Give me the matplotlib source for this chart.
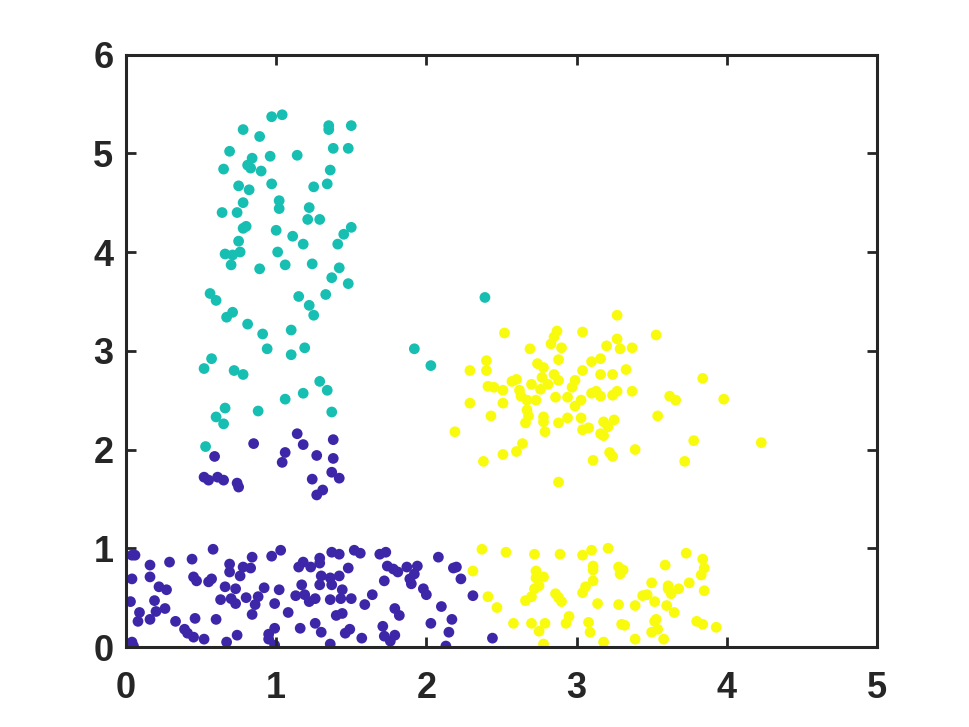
import matplotlib.pyplot as plt

# cluster 1 (purple)
purple_x = [0.85, 1.14, 1.18, 1.38, 1.06, 1.04, 1.27, 1.38, 0.59, 0.52, 0.55, 0.61, 0.65, 0.74, 0.75,
            1.37, 1.42, 1.24, 1.31, 1.27,
            0.04, 0.06, 0.58, 0.16, 0.29, 0.44, 0.69, 0.69, 0.78, 0.83, 0.84, 0.76, 0.97, 1.03,
            0.04, 0.16, 0.45, 0.47, 0.55, 0.57, 0.22, 0.27, 0.66, 0.73, 0.92, 1.02,
            0.03, 0.19, 0.63, 0.70, 0.73, 0.80, 0.88, 0.86, 0.99, 0.09, 0.20, 0.26, 1.08,
            0.08, 0.16, 0.33, 0.46, 0.60, 0.84, 0.39, 0.41, 0.45, 0.52, 0.67, 0.74,
            0.99, 0.95, 0.95, 0.99, 0.04, 0.05,
            1.37, 1.42, 1.52, 1.56, 1.69, 1.73, 2.08, 1.15, 1.18, 1.23, 1.29, 1.29, 1.48,
            1.74, 1.78, 1.81, 1.87, 1.94, 1.92, 1.89, 1.90, 1.72, 1.30, 1.36, 1.42,
            1.17, 1.29, 1.37, 1.13, 1.19, 1.22, 1.26, 1.36, 1.44, 1.43, 1.50, 1.64, 1.59,
            1.98, 2.00, 2.10, 1.40, 1.44, 1.79, 1.82, 1.16, 1.26, 1.30, 1.46, 1.49, 1.57,
            1.71, 1.72, 1.76, 1.79, 1.36, 2.03, 2.13, 2.15,
            2.18, 2.20, 2.23, 2.31, 2.17, 2.44]
purple_y = [2.06, 2.16, 2.05, 2.10, 1.97, 1.87, 1.94, 1.91, 1.93, 1.72, 1.69, 1.72, 1.69, 1.66, 1.62,
            1.77, 1.71, 1.70, 1.59, 1.54,
            0.93, 0.93, 0.99, 0.83, 0.86, 0.89, 0.84, 0.76, 0.81, 0.80, 0.91, 0.72, 0.92, 0.98,
            0.69, 0.71, 0.71, 0.67, 0.66, 0.69, 0.61, 0.58, 0.61, 0.59, 0.60, 0.58,
            0.46, 0.47, 0.48, 0.49, 0.44, 0.50, 0.51, 0.43, 0.44, 0.35, 0.36, 0.39, 0.35,
            0.26, 0.28, 0.26, 0.29, 0.28, 0.33, 0.18, 0.14, 0.10, 0.08, 0.05, 0.12,
            0.19, 0.13, 0.08, 0.02, 0.05, 0.01,
            0.96, 0.94, 0.98, 0.95, 0.94, 0.96, 0.91, 0.81, 0.86, 0.81, 0.90, 0.85, 0.80,
            0.82, 0.79, 0.76, 0.81, 0.82, 0.74, 0.69, 0.64, 0.67, 0.72, 0.70, 0.72,
            0.63, 0.63, 0.63, 0.52, 0.53, 0.46, 0.49, 0.48, 0.58, 0.49, 0.49, 0.53, 0.43,
            0.59, 0.53, 0.41, 0.32, 0.34, 0.39, 0.32, 0.19, 0.24, 0.15, 0.14, 0.18, 0.09,
            0.21, 0.11, 0.06, 0.12, 0.03, 0.24, 0.01, 0.15,
            0.80, 0.81, 0.69, 0.52, 0.28, 0.09]

# cluster 2 (teal)
teal_x = [0.97, 1.04, 0.78, 0.89, 1.35, 1.35, 1.50, 0.69, 1.38, 1.48, 0.84, 0.96, 1.14, 0.81,
          0.83, 0.65, 0.90, 1.36, 0.75, 0.82, 0.97, 1.25, 1.34, 0.78, 1.02, 1.02, 1.22, 0.64,
          0.74, 1.21, 1.29, 0.78, 0.80, 1.00, 1.50, 1.45, 1.11, 1.18, 1.41, 0.75, 0.66, 0.71,
          0.76, 1.01, 0.70, 0.89, 1.06, 1.24, 1.42, 1.37, 1.48, 0.56, 0.60, 1.15, 1.33, 1.22,
          1.25, 0.71, 0.67, 0.81, 0.91, 1.10, 0.94, 1.10, 1.19, 0.57, 0.52, 0.72, 0.78, 1.29,
          1.34, 1.18, 1.06, 0.66, 0.60, 0.65, 0.88, 1.37, 0.53, 2.39, 1.92, 2.03]
teal_y = [5.37, 5.39, 5.24, 5.17, 5.28, 5.24, 5.28, 5.02, 5.05, 5.05, 4.95, 4.97, 4.98, 4.88,
          4.85, 4.84, 4.82, 4.83, 4.67, 4.63, 4.69, 4.66, 4.69, 4.50, 4.52, 4.44, 4.45, 4.40,
          4.40, 4.33, 4.33, 4.24, 4.26, 4.22, 4.25, 4.18, 4.16, 4.08, 4.08, 4.11, 3.98, 3.97,
          4.00, 4.00, 3.87, 3.83, 3.87, 3.88, 3.84, 3.74, 3.68, 3.58, 3.51, 3.55, 3.57, 3.46,
          3.36, 3.39, 3.34, 3.27, 3.17, 3.21, 3.02, 2.96, 3.03, 2.92, 2.82, 2.80, 2.76, 2.69,
          2.60, 2.57, 2.51, 2.42, 2.33, 2.26, 2.39, 2.38, 2.03, 3.54, 3.02, 2.85]

# cluster 3 (yellow)
yellow_x = [2.37, 2.53, 2.72, 2.89, 3.04, 3.10, 3.21, 2.31, 2.73, 2.73, 2.78, 2.75, 2.72, 2.70,
            2.66, 3.11, 3.11, 3.11, 3.06, 3.04, 2.41, 2.47, 2.86, 2.88, 2.90, 3.14, 2.58, 2.70,
            2.79, 2.75, 2.95, 2.93, 3.08, 3.09, 2.78, 3.18,
            3.73, 3.84, 3.28, 3.31, 3.29, 3.59, 3.85, 3.83, 3.50, 3.61, 3.61, 3.63, 3.68, 3.75,
            3.85, 3.44, 3.47, 3.52, 3.28, 3.39, 3.60, 3.65, 3.53, 3.52, 3.54, 3.50, 3.30, 3.32,
            3.80, 3.84, 3.93, 3.39, 3.58,
            3.27, 2.52, 2.87, 2.85, 2.83, 2.90, 3.04, 3.27, 3.20, 3.29, 2.69, 2.40, 2.40, 2.29,
            2.88, 2.74, 2.78, 3.10, 3.16, 3.04, 3.16, 3.24, 2.77, 2.85, 2.88, 2.99, 2.57, 2.60,
            2.70, 2.76, 2.81, 2.97, 2.41, 2.45, 2.51, 2.62, 2.63, 2.67, 2.73, 2.86, 2.94, 3.03,
            3.10, 3.13, 3.16, 3.24, 3.27, 2.29, 2.51, 2.99, 2.67, 2.68, 2.43, 2.78, 2.78, 2.66,
            2.88, 2.94, 3.03, 2.79, 3.04, 3.08, 3.18, 3.21, 3.16, 3.18, 3.25, 2.19, 2.64, 2.60,
            2.51, 2.38, 3.11, 3.22, 3.24, 2.88,
            3.53, 3.37, 3.33, 3.84, 3.37, 3.62, 3.66, 3.98, 3.54, 3.78, 4.23, 3.39, 3.72]
yellow_y = [0.99, 0.96, 0.94, 0.94, 0.93, 0.98, 1.00, 0.77, 0.77, 0.70, 0.71, 0.62, 0.59, 0.51,
            0.47, 0.82, 0.78, 0.67, 0.61, 0.55, 0.51, 0.40, 0.54, 0.50, 0.46, 0.44, 0.24, 0.24,
            0.24, 0.16, 0.31, 0.24, 0.25, 0.15, 0.03, 0.05,
            0.95, 0.89, 0.81, 0.78, 0.74, 0.83, 0.80, 0.73, 0.65, 0.62, 0.59, 0.54, 0.59, 0.65,
            0.57, 0.52, 0.53, 0.46, 0.43, 0.42, 0.42, 0.35, 0.28, 0.26, 0.18, 0.15, 0.23, 0.22,
            0.26, 0.23, 0.20, 0.08, 0.08,
            3.36, 3.18, 3.20, 3.14, 3.07, 3.03, 3.19, 3.12, 3.05, 3.02, 3.02, 2.90, 2.80, 2.80,
            2.91, 2.87, 2.83, 2.89, 2.92, 2.80, 2.76, 2.76, 2.73, 2.76, 2.70, 2.70, 2.69, 2.71,
            2.66, 2.61, 2.66, 2.63, 2.64, 2.63, 2.60, 2.60, 2.54, 2.50, 2.50, 2.53, 2.53, 2.50,
            2.57, 2.59, 2.54, 2.55, 2.59, 2.47, 2.47, 2.44, 2.40, 2.34, 2.34, 2.33, 2.28, 2.27,
            2.27, 2.32, 2.32, 2.18, 2.20, 2.22, 2.28, 2.23, 2.16, 2.14, 2.30, 2.18, 2.06, 1.98,
            1.95, 1.88, 1.89, 1.97, 1.93, 1.67,
            3.16, 3.03, 2.81, 2.72, 2.59, 2.54, 2.50, 2.51, 2.34, 2.09, 2.07, 2.00, 1.88]

plt.rcParams['font.family'] = ['Liberation Sans', 'DejaVu Sans']

fig = plt.figure(figsize=(9.69, 7.27), dpi=100)
ax = fig.add_axes([0.13, 0.11, 0.775, 0.815])

ax.scatter(purple_x, purple_y, s=60, color="#3E26A8", edgecolors="none")
ax.scatter(teal_x, teal_y, s=60, color="#17BEB2", edgecolors="none")
ax.scatter(yellow_x, yellow_y, s=60, color="#F9FB0E", edgecolors="none")

ax.set_xlim(0, 5)
ax.set_ylim(0, 6)
ax.set_xticks(range(0, 6))
ax.set_yticks(range(0, 7))
ax.tick_params(direction="in", length=7, width=2, top=True, right=True,
               labelsize=26, colors="#262626")
ax.tick_params(axis="x", pad=17)
ax.tick_params(axis="y", pad=9)
for lbl in ax.get_xticklabels() + ax.get_yticklabels():
    lbl.set_fontweight("bold")
for sp in ax.spines.values():
    sp.set_linewidth(2.2)
    sp.set_color("#262626")

fig.savefig("out.png", dpi=100)
